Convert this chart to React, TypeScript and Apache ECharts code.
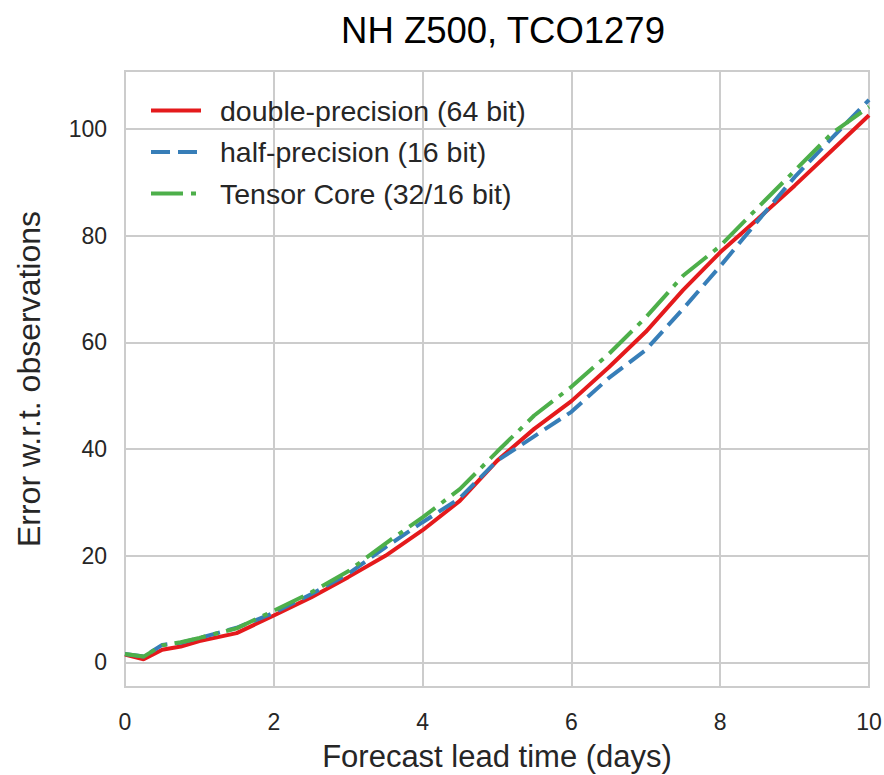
import React, { useEffect, useRef } from "react";
import * as echarts from "echarts";

const days = [0, 0.25, 0.5, 0.75, 1, 1.5, 2, 2.5, 3, 3.5, 4, 4.5, 5, 5.5, 6, 6.5, 7, 7.5, 8, 8.5, 9, 9.5, 10];
const doublePrecision = [1.5, 0.6, 2.4, 3.0, 4.0, 5.5, 8.8, 12.2, 16.0, 20.0, 24.8, 30.3, 37.8, 43.8, 49.0, 55.3, 62.0, 69.8, 76.9, 83.1, 89.4, 96.0, 102.6];
const halfPrecision = [1.6, 1.1, 3.3, 3.7, 4.6, 6.5, 9.3, 12.8, 16.6, 21.6, 26.3, 30.8, 37.8, 42.4, 47.0, 53.3, 58.6, 66.3, 74.3, 82.7, 91.0, 98.3, 105.5];
const tensorCore = [1.6, 1.1, 3.2, 3.8, 4.6, 6.4, 9.7, 13.1, 17.1, 22.3, 27.2, 32.5, 39.5, 46.3, 51.7, 57.8, 64.7, 72.5, 78.1, 85.2, 92.2, 99.2, 104.2];
const yTicks = [0, 20, 40, 60, 80, 100];
const seriesNames = ["double-precision (64 bit)", "half-precision (16 bit)", "Tensor Core (32/16 bit)"];

const FONT = "Liberation Sans, Arial, Helvetica, sans-serif";
const TEXT = "#262626";
const GRID = "#cccccc";

export default function App() {
  const ref = useRef<HTMLDivElement>(null);
  useEffect(() => {
    if (!ref.current) return;
    const chart = echarts.init(ref.current, undefined, { renderer: "svg" });
    const pairs = (vals: number[]) => days.map((d, i) => [d, vals[i]]);
    chart.setOption({
      animation: false,
      backgroundColor: "#ffffff",
      textStyle: { fontFamily: FONT },
      title: {
        text: "NH Z500, TCO1279",
        left: 498,
        top: 7,
        textAlign: "center",
        textStyle: { fontFamily: FONT, fontSize: 36.5, fontWeight: "normal", color: "#000" },
      },
      grid: {
        left: 125,
        right: 15,
        top: 71,
        bottom: 88,
        show: true,
        borderColor: GRID,
        borderWidth: 2,
        containLabel: false,
        outerBoundsMode: "none",
      },
      legend: {
        orient: "vertical",
        left: 144,
        top: 91,
        itemWidth: 50,
        itemHeight: 28,
        itemGap: 12.5,
        data: seriesNames,
        itemStyle: { opacity: 0 },
        lineStyle: { width: 4 },
        textStyle: { fontFamily: FONT, fontSize: 28.5, color: TEXT, padding: [0, 0, 0, 14] },
      },
      xAxis: {
        type: "value",
        min: 0,
        max: 10,
        interval: 2,
        name: "Forecast lead time (days)",
        nameLocation: "middle",
        nameGap: 54,
        nameTextStyle: { fontFamily: FONT, fontSize: 31, color: TEXT },
        axisLine: { show: false },
        axisTick: { show: false },
        axisLabel: { fontFamily: FONT, fontSize: 23, color: TEXT, margin: 23 },
        splitLine: { show: true, lineStyle: { color: GRID, width: 2 } },
      },
      yAxis: {
        type: "value",
        min: -4.6,
        max: 110.9,
        name: "Error w.r.t. observations",
        nameLocation: "middle",
        nameGap: 80,
        nameTextStyle: { fontFamily: FONT, fontSize: 32, color: TEXT },
        axisLine: { show: false },
        axisTick: { show: false, customValues: yTicks },
        axisLabel: { fontFamily: FONT, fontSize: 23, color: TEXT, margin: 18, customValues: yTicks },
        splitLine: { show: true, lineStyle: { color: GRID, width: 2 } },
      },
      series: [
        {
          name: seriesNames[0],
          type: "line",
          symbol: "none",
          data: pairs(doublePrecision),
          lineStyle: { color: "#e41a1c", width: 4, cap: "butt" },
          itemStyle: { color: "#e41a1c" },
        },
        {
          name: seriesNames[1],
          type: "line",
          symbol: "none",
          data: pairs(halfPrecision),
          lineStyle: { color: "#377eb8", width: 4, type: [19, 8], cap: "butt" },
          itemStyle: { color: "#377eb8" },
        },
        {
          name: seriesNames[2],
          type: "line",
          symbol: "none",
          data: pairs(tensorCore),
          lineStyle: { color: "#4daf4a", width: 4, type: [32, 8, 5, 8], cap: "butt" },
          itemStyle: { color: "#4daf4a" },
        },
      ],
    });
    return () => chart.dispose();
  }, []);
  return <div ref={ref} style={{ position: "fixed", left: 0, top: 0, width: 884, height: 775 }} />;
}
